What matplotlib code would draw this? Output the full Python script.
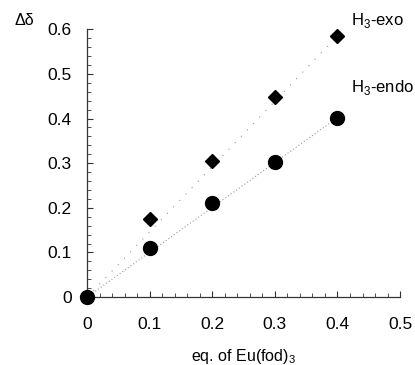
import matplotlib
matplotlib.use("Agg")
import matplotlib.pyplot as plt
from matplotlib.ticker import MultipleLocator

plt.rcParams["font.family"] = ["Liberation Sans", "DejaVu Sans"]
plt.rcParams["mathtext.fontset"] = "custom"
plt.rcParams["mathtext.rm"] = "Liberation Sans"

eq = [0.0, 0.1, 0.2, 0.3, 0.4]
exo = [0.0, 0.175, 0.305, 0.448, 0.585]
endo = [0.0, 0.11, 0.21, 0.302, 0.402]

fig = plt.figure(figsize=(4.15, 3.65), dpi=100)
ax = fig.add_axes([0.21, 0.186, 0.754, 0.734])

# trend lines through origin
ax.plot([eq[0], eq[-1]], [exo[0], exo[-1]], linestyle=(0, (1, 7)), color="#999999", lw=0.8)
ax.plot([eq[0], eq[-1]], [endo[0], endo[-1]], linestyle=(0, (1, 2)), color="#999999", lw=0.8)

ax.plot(eq, exo, "D", color="black", markersize=7.5, clip_on=False, zorder=3)
ax.plot(eq, endo, "o", color="black", markersize=10, clip_on=False, zorder=4)

ax.set_xlim(0, 0.5)
ax.set_ylim(0, 0.6)
ax.xaxis.set_major_locator(MultipleLocator(0.1))
ax.yaxis.set_major_locator(MultipleLocator(0.1))
ax.xaxis.set_minor_locator(MultipleLocator(0.02))
ax.yaxis.set_minor_locator(MultipleLocator(0.02))
ax.xaxis.set_major_formatter(lambda v, p: "0" if abs(v) < 1e-9 else f"{v:.1f}")
ax.yaxis.set_major_formatter(lambda v, p: "0" if abs(v) < 1e-9 else f"{v:.1f}")

for s in ["top", "right"]:
    ax.spines[s].set_visible(False)
for s in ["left", "bottom"]:
    ax.spines[s].set_color("#333333")
    ax.spines[s].set_linewidth(0.9)

ax.tick_params(axis="both", which="both", direction="in", color="#333333", labelsize=12.5)
ax.tick_params(axis="x", which="major", length=4, pad=14)
ax.tick_params(axis="y", which="major", length=4, pad=11)
ax.tick_params(axis="both", which="minor", length=3)

ax.set_xlabel(r"eq. of Eu(fod)$_\mathregular{3}$", fontsize=11.5, labelpad=11)
fig.text(0.035, 0.945, "Δδ", fontsize=11.5, ha="left", va="center")

ax.text(0.421, 0.62, r"H$_\mathregular{3}$-exo", fontsize=12, va="center", ha="left")
ax.text(0.421, 0.47, r"H$_\mathregular{3}$-endo", fontsize=12, va="center", ha="left")

fig.savefig("out.png", dpi=100)
